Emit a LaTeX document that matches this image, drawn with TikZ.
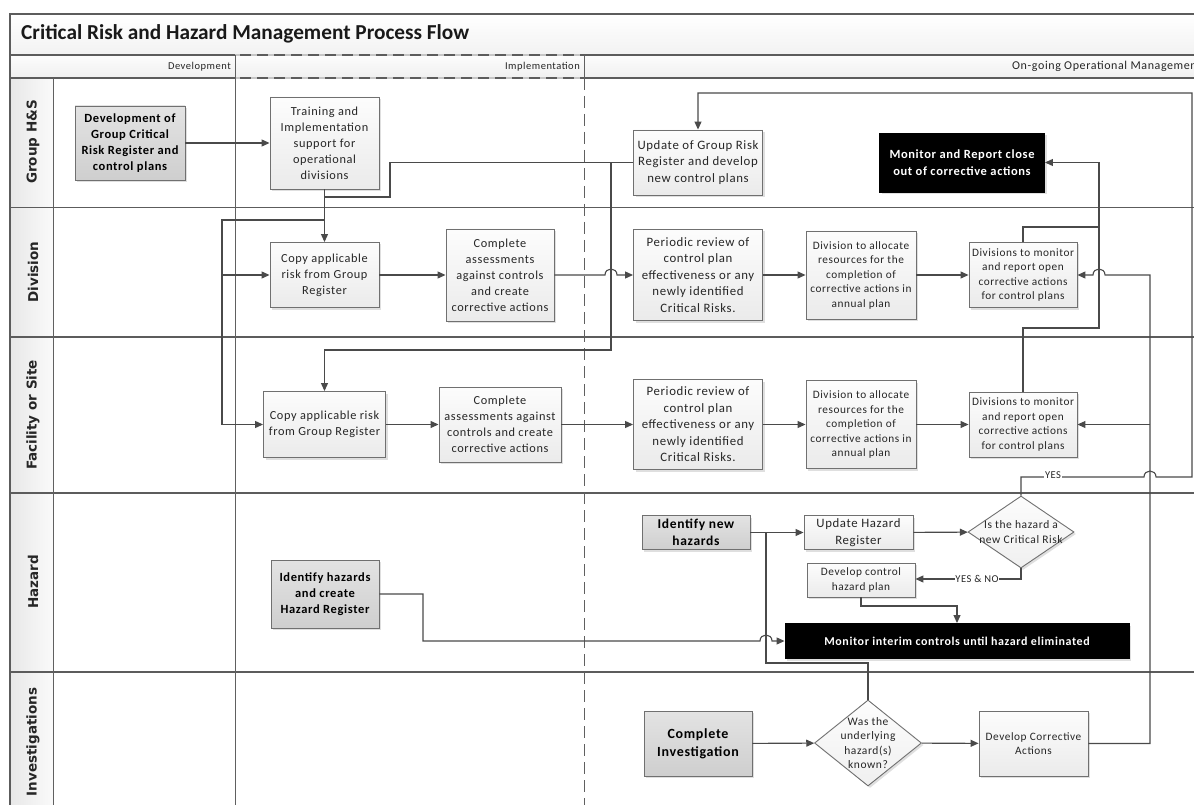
\documentclass[tikz,border=0pt]{standalone}
\usepackage{fontspec}
\setmainfont{Carlito}
\newfontfamily\bx{Carlito}[LetterSpace=5]
\newfontfamily\lanefont{DejaVu Sans}
\usetikzlibrary{arrows.meta,shapes.geometric,shadows}
\definecolor{linec}{HTML}{4A4A4A}
\definecolor{bord}{HTML}{707070}
\definecolor{lanec}{HTML}{5C5C5C}
\tikzset{
 base/.style={draw=bord, line width=0.9pt, align=center, inner sep=1pt, text=black!85,
   drop shadow={opacity=0.25,shadow xshift=2pt,shadow yshift=-2pt}},
 lbox/.style={base, rectangle, top color=gray!2, bottom color=gray!16},
 gbox/.style={base, rectangle, top color=gray!22, bottom color=gray!38, text=black,
   font=\bx\bfseries\fontsize{12.5}{16}\selectfont},
 kbox/.style={base, rectangle, fill=black, draw=black, text=white,
   font=\bx\bfseries\fontsize{12.5}{17}\selectfont},
 dbox/.style={base, diamond, top color=gray!2, bottom color=gray!12, inner sep=0pt},
 dtext/.style={align=center, text=black!85, font=\bx\fontsize{11.5}{14.5}\selectfont},
 f12/.style={font=\bx\fontsize{12.3}{16}\selectfont},
 f13/.style={font=\bx\fontsize{12.8}{16.5}\selectfont},
 f11/.style={font=\bx\fontsize{11.3}{14.5}\selectfont},
 conn/.style={draw=linec, line width=1.1pt},
 arr/.style={conn, -{Triangle[length=8pt,width=7pt]}},
 lanelab/.style={font=\lanefont\bfseries\fontsize{13.5}{16}\selectfont, rotate=90, text=black!85},
 hdr/.style={font=\bx\fontsize{10.5}{12}\selectfont, text=black!85, inner sep=0pt},
 lbl/.style={fill=white, inner sep=0.8pt, text=black!85, font=\bx\fontsize{10.5}{12}\selectfont},
 laneline/.style={draw=lanec, line width=1.4pt},
 colline/.style={draw=gray!75!black, line width=0.9pt},
}
\begin{document}
\begin{tikzpicture}[x=1pt,y=-1pt]
\useasboundingbox (0,0) rectangle (1194,805);
\clip (0,0) rectangle (1194,805);
\fill[white] (0,0) rectangle (1194,805);
% title band and header row
\shade[top color=white, bottom color=gray!10] (10,14) rectangle (1200,55);
\shade[top color=gray!2, bottom color=gray!12] (10,55) rectangle (1200,78);
\shade[left color=gray!18, right color=gray!4] (10,78) rectangle (53,810);
\node[anchor=base west, font=\bfseries\fontsize{21.3}{24}\selectfont, text=black!90, inner sep=0pt] (title) at (21,40) {Critical Risk and Hazard Management Process Flow};
\node[hdr, anchor=base east] (hdev) at (231,70) {Development};
\node[hdr, anchor=base east] (himp) at (580,70) {Implementation};
\node[hdr, font=\bx\fontsize{12}{13}\selectfont, anchor=base west] (hops) at (1012,70) {On-going Operational Management};
% frame and lane lines
\draw[laneline] (1200,14) -- (10,14) -- (10,810);
\draw[laneline] (10,55) -- (235,55) (584,55) -- (1200,55);
\draw[laneline] (10,78) -- (235,78) (584,78) -- (1200,78);
\draw[gray!45, line width=1.2pt] (235,55) -- (584,55) (235,78) -- (584,78);
\draw[lanec, line width=1.4pt, dash pattern=on 11pt off 6pt] (240,55) -- (584,55) (240,78) -- (584,78);
\foreach \yy in {207.5,337,493,672} {\draw[laneline] (10,\yy) -- (1200,\yy);}
\draw[colline] (53,78) -- (53,810);
\draw[colline] (235,55) -- (235,810);
\draw[colline] (584,55) -- (584,78);
\draw[colline, dash pattern=on 12pt off 6pt] (584,78) -- (584,810);
% lane labels
\node[lanelab] (lgrp) at (33,142) {Group H\&S};
\node[lanelab] (ldiv) at (33,272) {Division};
\node[lanelab] (lfac) at (33,415) {Facility or Site};
\node[lanelab] (lhaz) at (33,582) {Hazard};
\node[lanelab] (linv) at (33,742) {Investigations};
% Group H&S
\node[gbox, minimum width=110pt, minimum height=74pt] (dev) at (130,143) {Development of\\Group Critical\\Risk Register and\\control plans};
\node[lbox, f12, minimum width=109pt, minimum height=92pt] (train) at (324.5,143) {Training and\\Implementation\\support for\\operational\\divisions};
\node[lbox, f13, minimum width=129pt, minimum height=65pt] (upd) at (698,162.5) {Update of Group Risk\\Register and develop\\new control plans};
\node[kbox, minimum width=165pt, minimum height=59pt] (mon) at (962,162.5) {Monitor and Report close\\out of corrective actions};
% Division
\node[lbox, f12, minimum width=109pt, minimum height=65pt] (copyD) at (324.5,275) {Copy applicable\\risk from Group\\Register};
\node[lbox, f12, minimum width=108pt, minimum height=92pt] (compD) at (500,275) {Complete\\assessments\\against controls\\and create\\corrective actions};
\node[lbox, f13, minimum width=129pt, minimum height=91pt] (perD) at (698,275) {Periodic review of\\control plan\\effectiveness or any\\newly identified\\Critical Risks.};
\node[lbox, f11, minimum width=110pt, minimum height=88pt] (alloD) at (861,275) {Division to allocate\\resources for the\\completion of\\corrective actions in\\annual plan};
\node[lbox, f11, minimum width=108pt, minimum height=65pt] (monD) at (1023,275) {Divisions to monitor\\and report open\\corrective actions\\for control plans};
% Facility
\node[lbox, f12, minimum width=122pt, minimum height=66pt] (copyF) at (324.5,424.5) {Copy applicable risk\\from Group Register};
\node[lbox, f12, minimum width=122pt, minimum height=75pt] (compF) at (500,424.5) {Complete\\assessments against\\controls and create\\corrective actions};
\node[lbox, f13, minimum width=129pt, minimum height=90pt] (perF) at (698,424.5) {Periodic review of\\control plan\\effectiveness or any\\newly identified\\Critical Risks.};
\node[lbox, f11, minimum width=110pt, minimum height=88pt] (alloF) at (861,424.5) {Division to allocate\\resources for the\\completion of\\corrective actions in\\annual plan};
\node[lbox, f11, minimum width=108pt, minimum height=65pt] (monF) at (1023,424.5) {Divisions to monitor\\and report open\\corrective actions\\for control plans};
% Hazard
\node[gbox, minimum width=108pt, minimum height=68pt] (idh) at (325,594) {Identify hazards\\and create\\Hazard Register};
\node[gbox, font=\bx\bfseries\fontsize{13.5}{17}\selectfont, minimum width=108pt, minimum height=34pt] (idn) at (696,532.5) {Identify new\\hazards};
\node[lbox, f13, minimum width=109pt, minimum height=34pt] (updH) at (858.5,532.5) {Update Hazard\\Register};
\node[dbox, minimum width=106pt, minimum height=72pt, label={[dtext]center:Is the hazard a\\new Critical Risk}] (dia1) at (1021,532) {};
\node[lbox, f11, minimum width=108pt, minimum height=34pt] (dcp) at (861,580) {Develop control\\hazard plan};
\node[kbox, font=\bx\bfseries\fontsize{12}{16}\selectfont, minimum width=344pt, minimum height=35pt] (mih) at (957,641) {Monitor interim controls until hazard eliminated};
% Investigations
\node[gbox, font=\bx\bfseries\fontsize{14}{18}\selectfont, minimum width=108pt, minimum height=65pt] (ci) at (698,743.5) {Complete\\Investigation};
\node[dbox, minimum width=107pt, minimum height=86pt, label={[dtext]center:Was the\\underlying\\hazard(s)\\known?}] (dia2) at (868,743) {};
\node[lbox, f11, minimum width=109pt, minimum height=65pt] (dca) at (1033.5,743.5) {Develop Corrective\\Actions};
% junction coordinates
\coordinate (tA) at (324.5,197);
\coordinate (tB) at (324.5,220);
\coordinate (jU) at (611,162.5);
\coordinate (jM) at (1099,227);
\coordinate (jR) at (1150,424.5);
\coordinate (jH) at (766,532.5);
% connectors: Group H&S / Implementation
\draw[arr] (dev) -- (train);
\draw[arr] (train.south) -- (copyD.north);
\draw[arr] (tA) -- (390,197) -- (390,162.5) -- (jU) -- (611,350) -- (324.5,350) -- (copyF.north);
\draw[conn] (upd.west) -- (jU);
\draw[arr] (tB) -- (222,220) -- (222,424.5) -- (copyF.west);
\draw[arr] (222,275) -- (copyD.west);
% Division row
\draw[arr] (copyD) -- (compD);
\draw[arr] (compD.east) -- (605,275) .. controls (605,267) and (617,267) .. (617,275) -- (perD.west);
\draw[arr] (perD) -- (alloD);
\draw[arr] (alloD) -- (monD);
% Facility row
\draw[arr] (copyF) -- (compF);
\draw[arr] (compF) -- (perF);
\draw[arr] (perF) -- (alloF);
\draw[arr] (alloF) -- (monF);
% monitoring to close-out
\draw[arr] (monD.north) -- (1023,227) -- (jM) -- (1099,162.5) -- (mon.east);
\draw[conn] (monF.north) -- (1023,328) -- (1099,328) -- (jM);
% corrective actions back to monitors
\draw[arr] (dca.east) -- (1150,743.5) -- (1150,275) -- (1105,275) .. controls (1105,267) and (1093,267) .. (1093,275) -- (monD.east);
\draw[arr] (jR) -- (monF.east);
% YES loop to Update of Group Risk Register
\draw[arr] (dia1.north) -- (1021,477) -- (1144,477) .. controls (1144,469) and (1156,469) .. (1156,477) -- (1192,477) -- (1192,93) -- (698,93) -- (upd.north);
\node[lbl] (lyes) at (1053,475.5) {YES};
% Hazard lane
\draw[arr] (idh.east) -- (423,594) -- (423,641) -- (760,641) .. controls (760,633) and (772,633) .. (772,641) -- (mih.west);
\draw[arr] (idn) -- (updH);
\draw[arr] (updH) -- (dia1);
\draw[arr] (dia1.south) -- (1021,579) -- (dcp.east |- 0,579);
\node[lbl] (lyn) at (977,579) {YES \& NO};
\draw[arr] (dcp.south) -- (861,606) -- (957,606) -- (mih.north);
\draw[conn] (dia2.north) -- (868,663) -- (766,663) -- (jH);
% Investigations
\draw[arr] (ci) -- (dia2);
\draw[arr] (dia2) -- (dca);
\end{tikzpicture}
\end{document}
